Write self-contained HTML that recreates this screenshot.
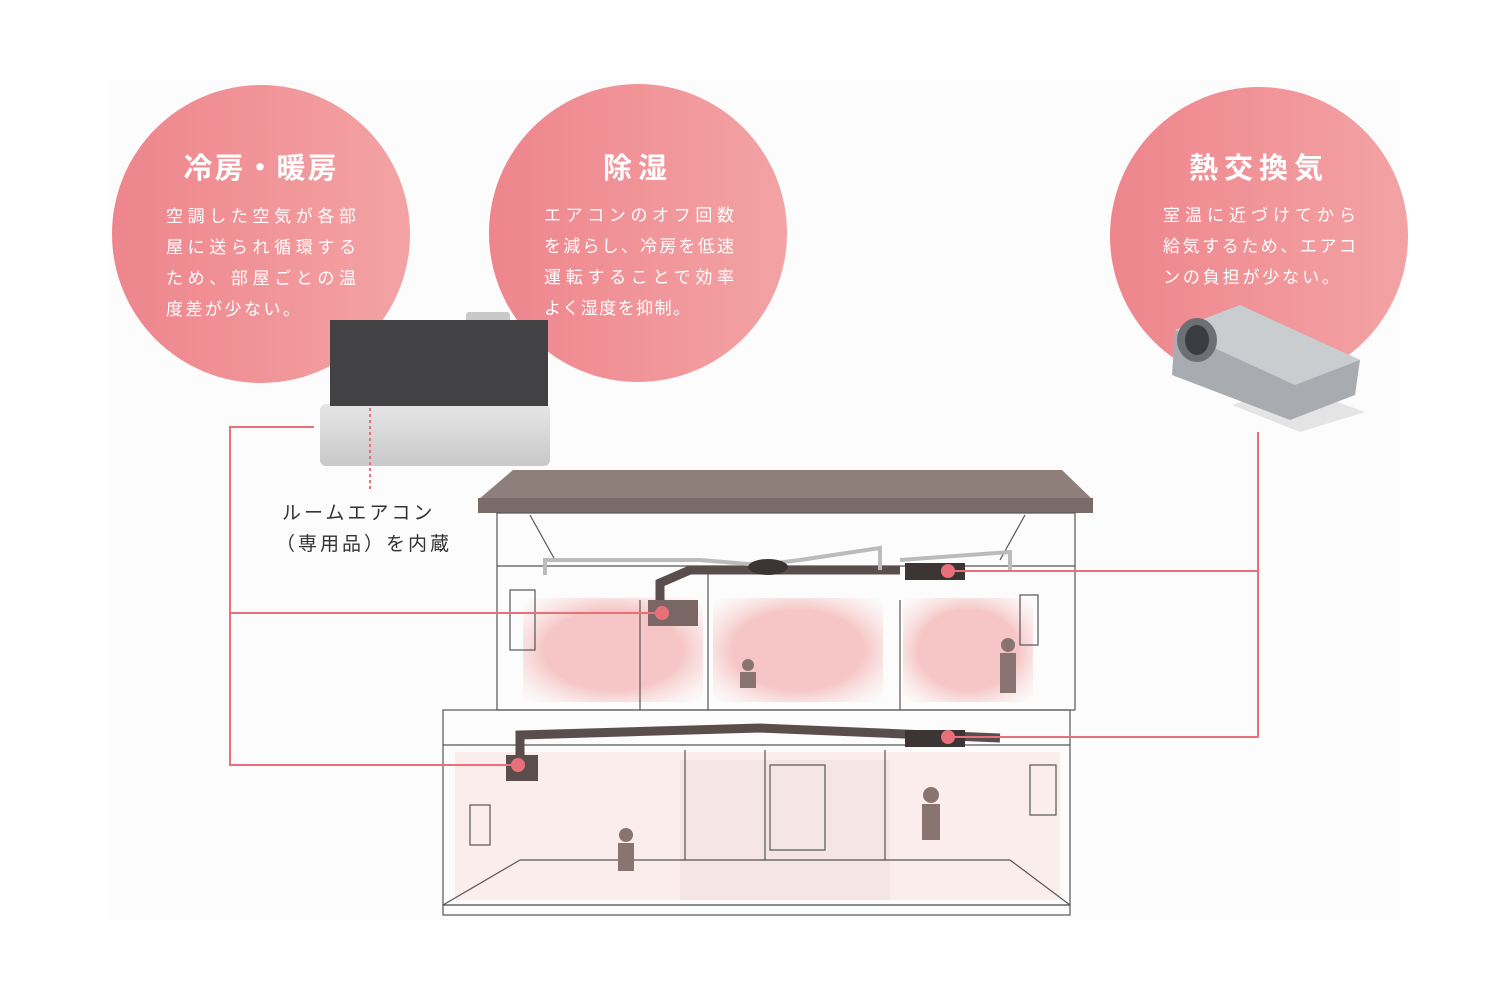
<!DOCTYPE html>
<html><head><meta charset="utf-8"><style>
html,body{margin:0;padding:0;background:#fff}
svg{display:block}
text{font-family:"Liberation Sans","Noto Sans CJK JP",sans-serif}
</style></head><body>
<svg width="1504" height="984" viewBox="0 0 1504 984" xmlns="http://www.w3.org/2000/svg">
<defs>
<linearGradient id="cg" x1="0" y1="0" x2="1" y2="0"><stop offset="0" stop-color="#ee858d"/><stop offset="1" stop-color="#f3a3a4"/></linearGradient>
<radialGradient id="pk" r="0.7"><stop offset="0.55" stop-color="#f6c6c6"/><stop offset="1" stop-color="#fbe4e4" stop-opacity="0"/></radialGradient>
<linearGradient id="gy" x1="0" y1="0" x2="0" y2="1"><stop offset="0" stop-color="#e6e6e6"/><stop offset="1" stop-color="#c9c9c9"/></linearGradient>
</defs>
<rect x="110" y="80" width="1290" height="840" fill="#fcfcfc"/>
<circle cx="261" cy="234" r="149" fill="url(#cg)"/>
<circle cx="638" cy="233" r="149" fill="url(#cg)"/>
<circle cx="1259" cy="236" r="149" fill="url(#cg)"/>
<g fill="#fff" text-anchor="middle">
<text x="261" y="178" font-size="29" font-weight="bold" letter-spacing="2">冷房・暖房</text>
<text x="638" y="178" font-size="29" font-weight="bold" letter-spacing="6">除湿</text>
<text x="1259" y="178" font-size="29" font-weight="bold" letter-spacing="6">熱交換気</text>
</g>
<g fill="#fff" font-size="17" lengthAdjust="spacing">
<text x="166" y="222" textLength="190">空調した空気が各部</text>
<text x="166" y="253" textLength="190">屋に送られ循環する</text>
<text x="166" y="284" textLength="190">ため、部屋ごとの温</text>
<text x="166" y="315" textLength="134">度差が少ない。</text>
<text x="544" y="221" textLength="190">エアコンのオフ回数</text>
<text x="544" y="252" textLength="190">を減らし、冷房を低速</text>
<text x="544" y="283" textLength="190">運転することで効率</text>
<text x="544" y="314" textLength="146">よく湿度を抑制。</text>
<text x="1163" y="221" textLength="193">室温に近づけてから</text>
<text x="1163" y="252" textLength="193">給気するため、エアコ</text>
<text x="1163" y="283" textLength="176">ンの負担が少ない。</text>
</g>
<!-- AC unit -->
<rect x="466" y="312" width="44" height="12" fill="#c8c8c8" rx="3"/>
<rect x="320" y="404" width="230" height="62" fill="url(#gy)" rx="6"/>
<rect x="330" y="320" width="218" height="86" fill="#424143"/>
<line x1="370" y1="408" x2="370" y2="492" stroke="#e8707a" stroke-width="2" stroke-dasharray="3,3"/>
<g font-size="19" fill="#333" letter-spacing="3">
<text x="282" y="519">ルームエアコン</text>
<text x="276" y="550">（専用品）を内蔵</text>
</g>
<!-- ventilation unit -->
<polygon points="1232,405 1290,385 1365,412 1300,432" fill="#e4e4e4"/>
<polygon points="1175,330 1240,305 1360,360 1355,395 1290,420 1172,375" fill="#a8acb0"/>
<polygon points="1175,330 1240,305 1360,360 1295,385" fill="#c9cdd0"/>
<ellipse cx="1197" cy="340" rx="20" ry="22" fill="#6c7074"/>
<ellipse cx="1197" cy="340" rx="12" ry="15" fill="#3a3c40"/>
<!-- house -->
<rect x="455" y="752" width="605" height="148" fill="#fbe9e9" opacity="0.8"/>
<rect x="523" y="598" width="180" height="104" fill="url(#pk)"/>
<rect x="713" y="598" width="170" height="104" fill="url(#pk)"/>
<rect x="903" y="598" width="130" height="104" fill="url(#pk)"/>
<rect x="680" y="760" width="210" height="140" fill="#f0e0e0" opacity="0.6"/>
<polygon points="513,470 1062,470 1093,500 478,500" fill="#8e7f7b"/>
<rect x="478" y="498" width="615" height="15" fill="#7a6b68"/>
<g fill="none" stroke="#555" stroke-width="1.2">
<rect x="497" y="513" width="578" height="197"/>
<line x1="497" y1="566" x2="1075" y2="566"/>
<rect x="443" y="710" width="627" height="195"/>
<line x1="443" y1="745" x2="1070" y2="745"/>
<rect x="443" y="905" width="627" height="10"/>
<line x1="530" y1="515" x2="555" y2="560"/>
<line x1="1025" y1="515" x2="1000" y2="560"/>
<line x1="708" y1="566" x2="708" y2="710"/>
<line x1="900" y1="600" x2="900" y2="710"/>
<line x1="640" y1="600" x2="640" y2="710"/>
<line x1="685" y1="750" x2="685" y2="860"/>
<line x1="765" y1="750" x2="765" y2="860"/>
<line x1="885" y1="750" x2="885" y2="860"/>
<line x1="443" y1="905" x2="520" y2="860"/>
<line x1="1070" y1="905" x2="1010" y2="860"/>
<line x1="520" y1="860" x2="1010" y2="860"/>
<rect x="510" y="590" width="25" height="60"/>
<rect x="1020" y="595" width="18" height="50"/>
<rect x="1030" y="765" width="26" height="50"/>
<rect x="470" y="805" width="20" height="40"/>
<rect x="770" y="765" width="55" height="85"/>
</g>
<!-- ducts -->
<g stroke="#5a4e4c" stroke-width="9" fill="none">
<path d="M660 600 L660 583 L690 570 L900 570"/>
<path d="M520 760 L520 735 L760 728 L1000 738"/>
</g>
<g stroke="#bbb" stroke-width="4" fill="none">
<path d="M545 575 L545 560 L700 560 L760 565"/>
<path d="M760 565 L800 560 L880 548 L880 570"/>
<path d="M900 560 L1010 552 L1010 570"/>
</g>
<ellipse cx="768" cy="567" rx="20" ry="8" fill="#3d3533"/>
<rect x="905" y="563" width="60" height="17" fill="#3d3533"/>
<rect x="905" y="730" width="60" height="17" fill="#3d3533"/>
<rect x="648" y="600" width="50" height="26" fill="#7a6664"/>
<rect x="506" y="755" width="32" height="26" fill="#5a4e4c"/>
<g fill="#8a7472">
<circle cx="748" cy="665" r="6"/><rect x="740" y="672" width="16" height="16"/>
<circle cx="1008" cy="645" r="7"/><rect x="1000" y="653" width="16" height="40"/>
<circle cx="626" cy="835" r="7"/><rect x="618" y="843" width="16" height="28"/>
<circle cx="931" cy="795" r="8"/><rect x="922" y="804" width="18" height="36"/>
</g>
<g stroke="#e8707a" stroke-width="2" fill="none">
<polyline points="314,427 230,427 230,765 518,765"/>
<line x1="230" y1="613" x2="662" y2="613"/>
<polyline points="1258,432 1258,737 948,737"/>
<line x1="948" y1="571" x2="1258" y2="571"/>
</g>
<g fill="#e8707a">
<circle cx="662" cy="613" r="7"/><circle cx="518" cy="765" r="7"/>
<circle cx="948" cy="571" r="7"/><circle cx="948" cy="737" r="7"/>
</g>
</svg>
</body></html>
